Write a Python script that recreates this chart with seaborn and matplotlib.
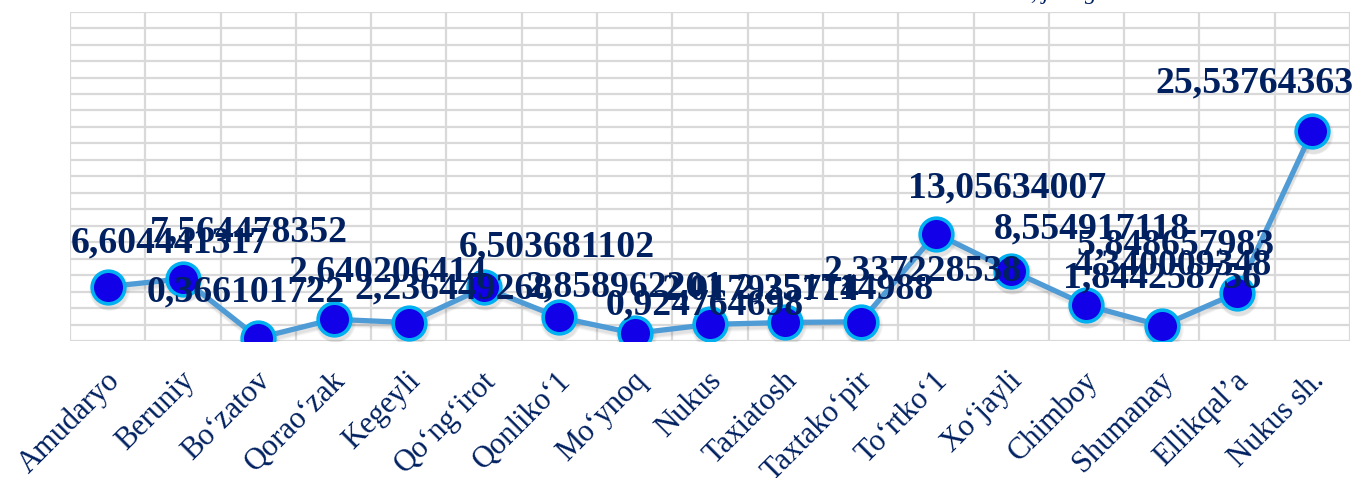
import matplotlib
matplotlib.use("Agg")
import matplotlib.pyplot as plt
import matplotlib.transforms as mtransforms
import numpy as np
import pandas as pd
import seaborn as sns

categories = ["Amudaryo", "Beruniy", "Bo\u2018zatov", "Qorao\u2018zak", "Kegeyli",
              "Qo\u2018ng\u2018irot", "Qonliko\u20181", "Mo\u2018ynoq", "Nukus", "Taxiatosh",
              "Taxtako\u2018pir", "To\u2018rtko\u20181", "Xo\u2018jayli", "Chimboy",
              "Shumanay", "Ellikqal\u2019a", "Nukus sh."]
value_labels = ["6,604441317", "7,564478352", "0,366101722", "2,640206414", "2,236449268",
                "6,503681102", "2,858962201", "0,924764698", "2,017935714", "2,251714988",
                "2,337228538", "13,05634007", "8,554917118", "4,340009348", "1,844258756",
                "5,848657983", "25,53764363"]
values = [float(s.replace(",", ".")) for s in value_labels]

# label offsets (pixels) relative to each point
label_dx = [62, 66, -13, 54, 45, 73, 65, 70, 50, 49, 62, 71, 81, 86, 0, -62, -58]
label_dy = [44, 47, 46, 47, 34, 40, 30, 28, 34, 33, 51, 46, 42, 40, 48, 48, 48]

navy = "#002060"
grid_c = "#D9D9D9"

df = pd.DataFrame({"district": categories, "value": values})

sns.set_theme(style="white")
plt.rcParams["font.family"] = ["Liberation Serif", "DejaVu Serif"]

fig = plt.figure(figsize=(13.54, 4.78), dpi=100)
ax = fig.add_axes([70 / 1354, 1 - 341 / 478, 1280 / 1354, (341 - 11.7) / 478])

# soft shadow under line and markers
for k, (off, a) in enumerate([(5, 0.10), (4, 0.12), (3, 0.14)]):
    shadow_tr = mtransforms.offset_copy(ax.transData, fig=fig, x=1, y=-off, units="dots")
    ax.plot(np.arange(len(values)), values, color="#555555", lw=4, alpha=a * 0.5,
            marker="o", markersize=25 + 2 * k, markeredgewidth=0,
            transform=shadow_tr, zorder=2)

sns.lineplot(data=df, x="district", y="value", sort=False, ax=ax,
             color="#4E9BD6", linewidth=3.8, marker="o", markersize=23.5,
             markerfacecolor="#1100E8", markeredgecolor="#00B0F0",
             markeredgewidth=2.6, zorder=3)

ax.set_xlim(-0.5, len(categories) - 0.5)
ax.set_ylim(0, 40)
ax.set_yticks(np.arange(0, 41, 2))
ax.set_yticklabels([])
ax.tick_params(axis="y", length=0)
ax.grid(axis="y", color=grid_c, lw=1.6)
ax.set_xticks(np.arange(len(categories)))
ax.set_xticks(np.arange(-0.5, len(categories)), minor=True)
ax.grid(axis="x", which="minor", color=grid_c, lw=1.6)
ax.grid(axis="x", which="major", visible=False)
ax.tick_params(axis="x", which="minor", length=7, width=1.6, color=grid_c, direction="out")
ax.tick_params(axis="x", which="major", length=0, pad=18)
ax.set_xticklabels(categories, rotation=45, ha="right", va="top",
                   rotation_mode="anchor", fontsize=22, color=navy)
shift = mtransforms.ScaledTranslation(-3 / 100, 0, fig.dpi_scale_trans)
for lab in ax.get_xticklabels():
    lab.set_transform(lab.get_transform() + shift)
for s in ax.spines.values():
    s.set_visible(False)
ax.set_xlabel("")
ax.set_ylabel("")
ax.set_axisbelow(True)

for i, (v, lab) in enumerate(zip(values, value_labels)):
    ax.annotate(lab, xy=(i, v), xytext=(label_dx[i], label_dy[i]),
                textcoords="offset pixels", ha="center", va="center",
                fontsize=27.2, fontweight="bold", color=navy, zorder=5,
                annotation_clip=False)

fig.text(0.79, 1.0 + 1.5 / 478, ", jamiga", ha="center", va="baseline",
         fontsize=17, style="italic", color=navy)

fig.savefig("out.png", dpi=100)
